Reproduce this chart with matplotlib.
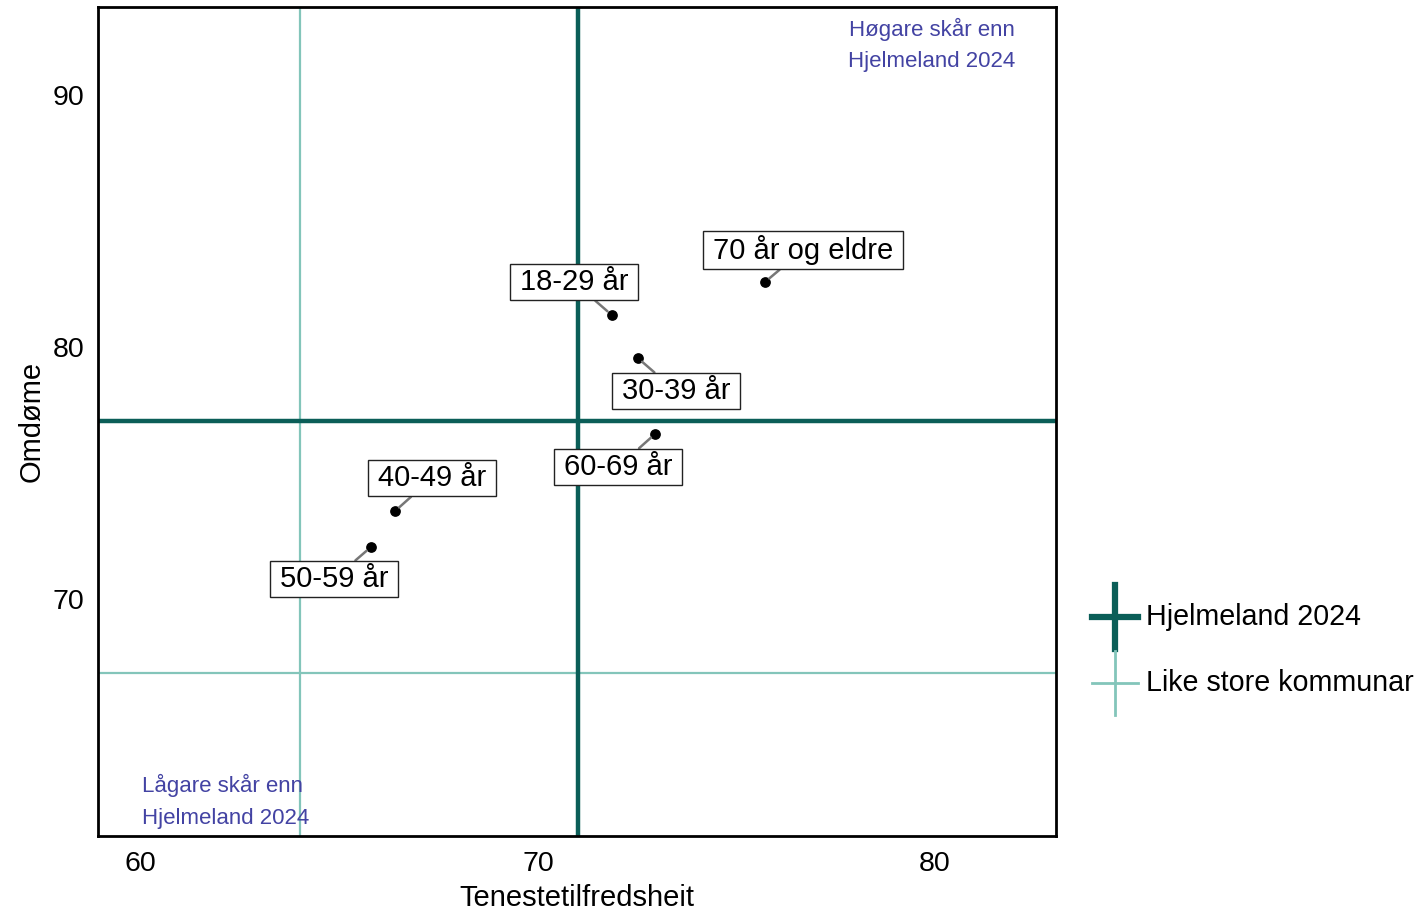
import matplotlib.pyplot as plt
from matplotlib.lines import Line2D
from matplotlib.path import Path
import numpy as np

plt.rcParams['font.family'] = ['Liberation Sans', 'DejaVu Sans']

groups = ["70 år og eldre", "18-29 år", "30-39 år", "60-69 år", "40-49 år", "50-59 år"]
tenestetilfredsheit = [75.72, 71.86, 72.52, 72.95, 66.40, 65.79]
omdome = [82.58, 81.27, 79.56, 76.55, 73.49, 72.06]

hjelmeland = (71.0, 77.06)
like_store = (64.0, 67.06)

# label offsets in pixels (ggrepel-ish placement)
offsets = [(38, 32), (-38, 33), (38, -33), (-37, -33), (37, 33), (-37, -32)]

dark = "#0b5e58"
light = "#83c5ba"
purple = "#4343a3"


def label_box(x0, y0, width, height, mutation_size):
    # wider padding left/right than top/bottom, like geom_label
    px_, py_ = 0.34 * mutation_size, 0.145 * mutation_size
    x0, y0 = x0 - px_, y0 - py_
    x1, y1 = x0 + width + 2 * px_, y0 + height + 2 * py_
    return Path([(x0, y0), (x1, y0), (x1, y1), (x0, y1), (x0, y0)], closed=True)


fig = plt.figure(figsize=(14.16, 9.11), dpi=100)
ax = fig.add_axes([0.0692, 0.0823, 0.6766, 0.91])

ax.axvline(like_store[0], color=light, lw=1.6, zorder=1)
ax.axhline(like_store[1], color=light, lw=1.6, zorder=1)
ax.axvline(hjelmeland[0], color=dark, lw=3.2, zorder=2)
ax.axhline(hjelmeland[1], color=dark, lw=3.2, zorder=2)

ax.scatter(tenestetilfredsheit, omdome, s=45, color="black", zorder=4)

for g, x, y, (dx, dy) in zip(groups, tenestetilfredsheit, omdome, offsets):
    ax.annotate(g, xy=(x, y), xytext=(dx, dy), textcoords="offset pixels",
                ha="center", va="center", fontsize=21, zorder=5,
                bbox=dict(boxstyle=label_box, fc="white", ec="#222222", lw=1),
                arrowprops=dict(arrowstyle="-", color="#777777", lw=1.8,
                                shrinkA=0, shrinkB=4))

ax.text(0.957, 0.987, "Høgare skår enn\nHjelmeland 2024", transform=ax.transAxes,
        ha="right", va="top", fontsize=16, color=purple, linespacing=1.65)
ax.text(0.046, 0.009, "Lågare skår enn\nHjelmeland 2024", transform=ax.transAxes,
        ha="left", va="bottom", fontsize=16, color=purple, linespacing=1.65)

ax.set_xlim(58.92, 83.05)
ax.set_ylim(60.6, 93.49)
ax.set_xticks([60, 70, 80])
ax.set_yticks([70, 80, 90])
ax.tick_params(length=0, labelsize=20.5)
ax.tick_params(axis="x", pad=11)
ax.tick_params(axis="y", pad=10)
for s in ax.spines.values():
    s.set_linewidth(2)
ax.set_xlabel("Tenestetilfredsheit", fontsize=21, labelpad=5)
ax.set_ylabel("Omdøme", fontsize=21, labelpad=5)

# legend drawn by hand: crosses like the reference lines
def px(x, y):
    return x / 1416, 1 - y / 911

for (cy, col, lw, label) in [(617, dark, 4.5, "Hjelmeland 2024"),
                             (683, light, 2.0, "Like store kommunar")]:
    x0, y0 = px(1092, cy)
    x1, _ = px(1138, cy)
    xc, yt = px(1115, cy - 32)
    _, yb = px(1115, cy + 32)
    fig.add_artist(Line2D([x0, x1], [y0, y0], color=col, lw=lw))
    fig.add_artist(Line2D([xc, xc], [yb, yt], color=col, lw=lw))
    tx, ty = px(1146, cy)
    fig.text(tx, ty, label, fontsize=20.6, ha="left", va="center")

fig.savefig("out.png", dpi=100)
